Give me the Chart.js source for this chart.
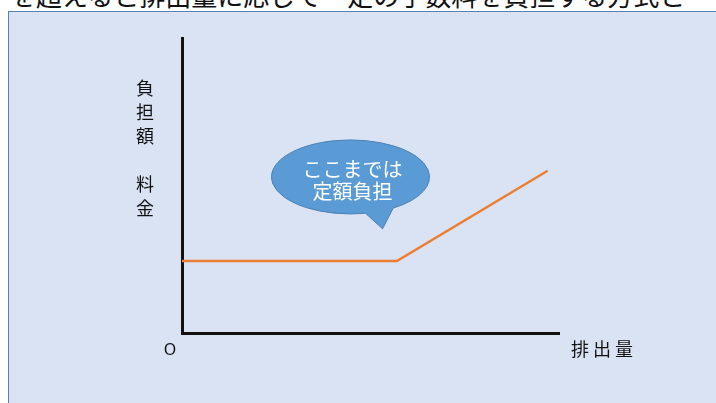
<!DOCTYPE html>
<html><head><meta charset="utf-8">
<script src="https://cdn.jsdelivr.net/npm/chart.js@4/dist/chart.umd.min.js"></script>
<style>
html,body{margin:0;padding:0;width:716px;height:403px;overflow:hidden;background:#fff;}
#top{position:absolute;left:10px;top:-20px;font-family:"Noto Sans CJK JP";font-size:26px;line-height:30px;color:#111;white-space:nowrap;}
#panel{position:absolute;left:8px;top:11px;width:720px;height:400px;background:#dae3f3;border:1.5px solid #5b7fb5;box-sizing:border-box;}
#wrap{position:absolute;left:0;top:0;width:716px;height:403px;}
</style></head><body>
<div id="top">を超えると排出量に応じて一定の手数料を負担する方式と</div>
<div id="panel"></div>
<div id="wrap"><canvas id="c" width="716" height="403"></canvas></div>
<script>
// data
const feeX = [0, 57, 97];
const feeY = [24.4, 24.4, 55];
const yLabel = ["負", "担", "額", "", "料", "金"];
const xLabel = "排 出 量";
const originLabel = "O";
const bubbleLines = ["ここまでは", "定額負担"];
const bubbleCenter = [44.7, 52.9]; // data units
const bubbleTip = [53.2, 35.3];

const overlay = {
  id: 'overlay',
  afterDraw(chart) {
    const {ctx, scales: {x, y}, chartArea} = chart;
    ctx.save();
    ctx.fillStyle = '#111';
    ctx.font = '18px "Noto Sans CJK JP"';
    ctx.textAlign = 'center';
    ctx.textBaseline = 'middle';
    const lx = chartArea.left - 37;
    let ly = 88;
    yLabel.forEach(ch => { ctx.fillText(ch, lx, ly); ly += 24; });
    ctx.font = '16px "Noto Sans"';
    ctx.fillText(originLabel, chartArea.left - 12, chartArea.bottom + 17);
    ctx.font = '18px "Noto Sans CJK JP"';
    ctx.textAlign = 'left';
    ctx.fillText(xLabel, chartArea.right + 12, chartArea.bottom + 16);
    const cx = x.getPixelForValue(bubbleCenter[0]);
    const cy = y.getPixelForValue(bubbleCenter[1]);
    const tx = x.getPixelForValue(bubbleTip[0]);
    const ty = y.getPixelForValue(bubbleTip[1]);
    const rx = 79, ry = 37;
    ctx.beginPath();
    const a1 = 1.0, a2 = 1.38;
    ctx.ellipse(cx, cy, rx, ry, 0, a2, a1 + Math.PI * 2, false);
    ctx.lineTo(tx, ty);
    ctx.closePath();
    ctx.fillStyle = '#5b9bd5';
    ctx.fill();
    ctx.strokeStyle = '#4a7fb5';
    ctx.lineWidth = 1;
    ctx.stroke();
    ctx.fillStyle = '#fff';
    ctx.font = '20px "Noto Sans CJK JP"';
    ctx.textAlign = 'center';
    ctx.fillText(bubbleLines[0], cx + 2, cy - 8);
    ctx.fillText(bubbleLines[1], cx + 2, cy + 14);
    ctx.restore();
  }
};

new Chart(document.getElementById('c'), {
  type: 'line',
  data: {
    datasets: [{
      data: feeX.map((v, i) => ({x: v, y: feeY[i]})),
      borderColor: '#ed7d31',
      borderWidth: 2.5,
      pointRadius: 0,
      tension: 0,
      fill: false
    }]
  },
  options: {
    responsive: false,
    animation: false,
    layout: {padding: {left: 182, top: 38, right: 157, bottom: 70}},
    plugins: {legend: {display: false}, tooltip: {enabled: false}},
    scales: {
      x: {type: 'linear', min: 0, max: 100,
          grid: {display: false, drawTicks: false},
          ticks: {display: false},
          border: {display: true, color: '#111', width: 3}},
      y: {type: 'linear', min: 0, max: 100,
          grid: {display: false, drawTicks: false},
          ticks: {display: false},
          border: {display: true, color: '#111', width: 3}}
    }
  },
  plugins: [overlay]
});
</script>
</body></html>
